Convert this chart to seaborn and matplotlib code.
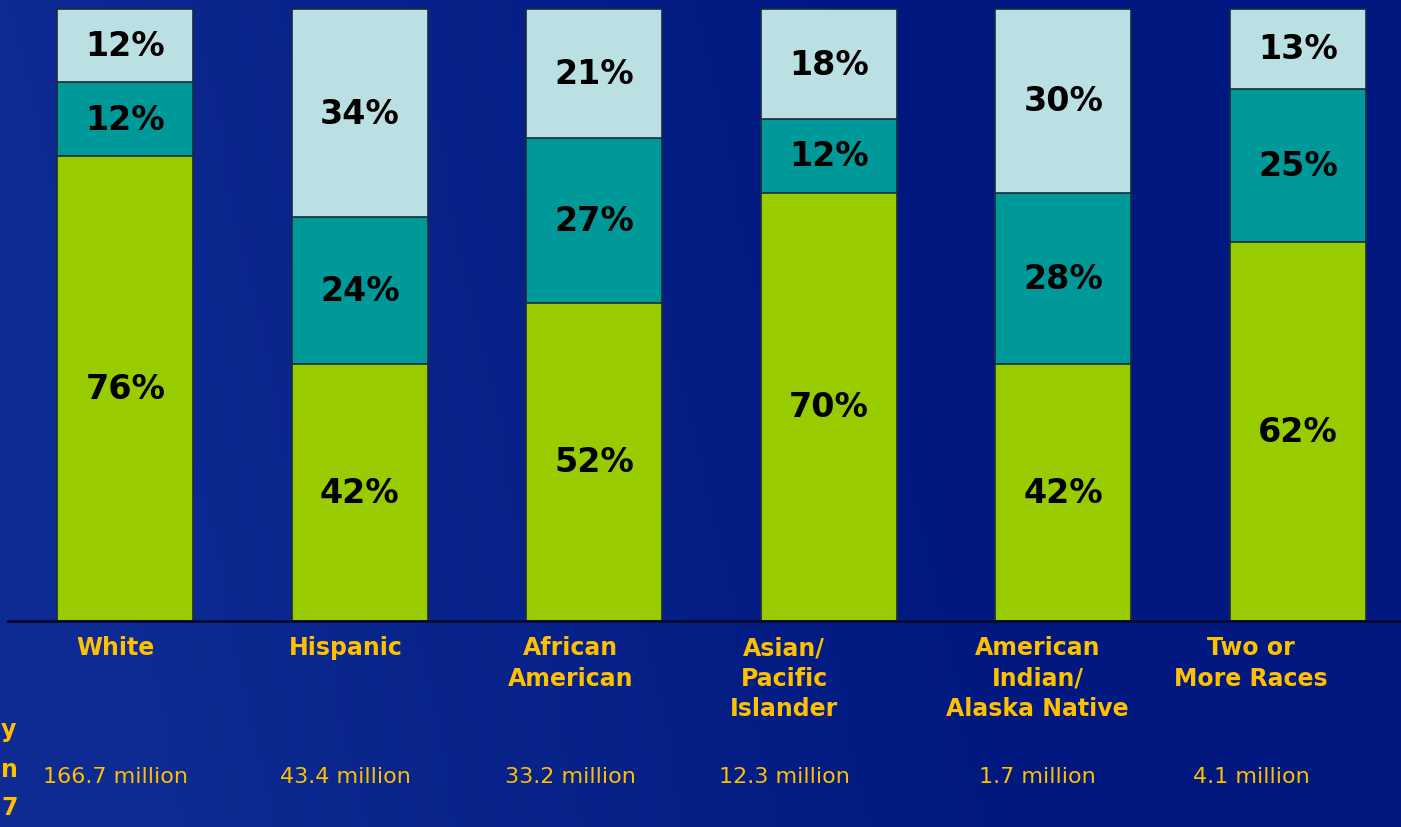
import numpy as np
import pandas as pd
import seaborn as sns
import matplotlib.pyplot as plt
from matplotlib.colors import LinearSegmentedColormap

# Data
groups = ['White', 'Hispanic', 'African\nAmerican', 'Asian/\nPacific\nIslander',
          'American\nIndian/\nAlaska Native', 'Two or\nMore Races']
population = ['166.7 million', '43.4 million', '33.2 million', '12.3 million',
              '1.7 million', '4.1 million']
bottom_pct = [76, 42, 52, 70, 42, 62]
middle_pct = [12, 24, 27, 12, 28, 25]
top_pct = [12, 34, 21, 18, 30, 13]

# layout only: label shift to the left of the bar centre (data units)
label_shift = [0.04, 0.06, 0.10, 0.19, 0.11, 0.2]

colors = ['#99CC00', '#009999', '#BBE0E3']
gold = '#FFC000'

df = pd.DataFrame({'group': groups, 'bottom': bottom_pct,
                   'middle': middle_pct, 'top': top_pct})
df['lvl1'] = df['bottom']
df['lvl2'] = df['bottom'] + df['middle']
df['lvl3'] = df['lvl2'] + df['top']

sns.set_theme(style='white')
plt.rcParams['font.family'] = ['DejaVu Sans']

fig = plt.figure(figsize=(14.01, 8.28), dpi=100)

# blue background with a soft gradient
bg = fig.add_axes([0, 0, 1, 1], zorder=-10)
xx, yy = np.meshgrid(np.linspace(0, 1, 200), np.linspace(0, 1, 200))
grad = np.clip(1 - (xx * 1.6 + (1 - yy) * -0.2), 0, 1)
cmap = LinearSegmentedColormap.from_list('bg', ['#001880', '#0d2b92'])
bg.imshow(grad, cmap=cmap, aspect='auto', extent=[0, 1, 0, 1], origin='lower')
bg.axis('off')

W, H = 1401, 828
ax = fig.add_axes([8 / W, (H - 622) / H, 1 - 8 / W, 622 / H])
ax.patch.set_alpha(0)

# draw stacked bars, tallest layer first
for col, c in zip(['lvl3', 'lvl2', 'lvl1'], colors[::-1]):
    sns.barplot(data=df, x='group', y=col, color=c, width=0.58,
                edgecolor='#1a2a40', linewidth=1.2, saturation=1, ax=ax)

ax.set_xlim(-0.5, 5.44)
ax.set_ylim(0, 100 * 622 / 612)
for s in ['top', 'right', 'left']:
    ax.spines[s].set_visible(False)
ax.spines['bottom'].set_color('#0a0a30')
ax.spines['bottom'].set_linewidth(2)
ax.set_xticks([])
ax.set_yticks([])
ax.set_xlabel('')
ax.set_ylabel('')

for i, row in df.iterrows():
    segs = [(0, row['lvl1'], row['bottom']),
            (row['lvl1'], row['lvl2'], row['middle']),
            (row['lvl2'], row['lvl3'], row['top'])]
    for lo, hi, v in segs:
        ax.text(i, (lo + hi) / 2, f'{v}%', ha='center', va='center',
                fontsize=24, fontweight='bold', color='black')
    ax.text(i - label_shift[i], -2.3, row['group'], ha='center', va='top',
            fontsize=17, fontweight='bold', color=gold, linespacing=1.35,
            clip_on=False)
    ax.text(i - label_shift[i], -25.4, population[i], ha='center', va='center',
            fontsize=16, color=gold, clip_on=False)

# side text at the left edge (cut off in the source slide)
for ch, y in zip(['y', 'n', '7'], [730, 770, 808]):
    fig.text(1 / W, 1 - y / H, ch, ha='left', va='center', fontsize=17,
             fontweight='bold', color=gold)

fig.savefig('out.png', dpi=100)
